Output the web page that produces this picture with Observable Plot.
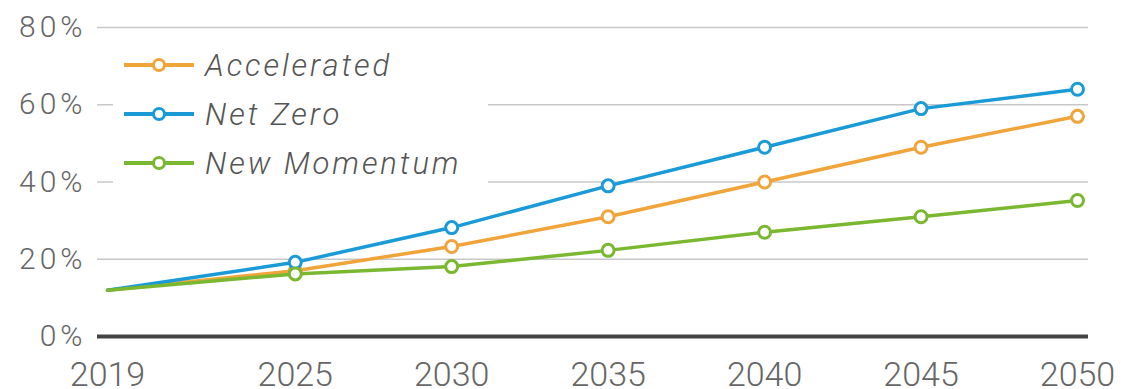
<!DOCTYPE html>
<html>
<head>
<meta charset="utf-8">
<script src="https://cdn.jsdelivr.net/npm/d3@7"></script>
<script src="https://cdn.jsdelivr.net/npm/@observablehq/plot@0.6"></script>
<style>
  body { margin: 0; background: #fff; }
  #wrap { position: relative; width: 1121px; height: 389px; overflow: hidden; }
  #legend { position: absolute; left: 113px; top: 40px; width: 375px; height: 162px; background: #fff;
    font-family: Roboto, "Liberation Sans", sans-serif; font-weight: 300; font-style: italic; font-size: 31px; letter-spacing: 2.9px; color: #555; }
  .row { position: absolute; left: 0; height: 40px; display: flex; align-items: center; white-space: nowrap; }
  .row svg { margin-left: 10px; margin-right: 10px; }
  #chart svg g[aria-label="y-axis tick label"] text { letter-spacing: 4px; }
</style>
</head>
<body>
<div id="wrap"><div id="chart"></div><div id="legend"></div></div>
<script>
const years = [2019, 2025, 2030, 2035, 2040, 2045, 2050];
const seriesNames = ["Accelerated", "Net Zero", "New Momentum"];
const accelerated = [12, 17, 23.3, 31, 40, 49, 57];
const netZero = [12, 19.2, 28.2, 39, 49, 59, 64];
const newMomentum = [12, 16.2, 18.1, 22.3, 27, 31, 35.2];
const colors = ["#F0A43A", "#1A9BD7", "#7AB831"];
const yTicks = [0, 20, 40, 60, 80];
const xTicks = [2019, 2025, 2030, 2035, 2040, 2045, 2050];

const seriesValues = [accelerated, netZero, newMomentum];
const data = [];
seriesNames.forEach((s, i) => years.forEach((yr, j) => data.push({series: s, year: yr, value: seriesValues[i][j]})));

const font = 'Roboto, "Liberation Sans", sans-serif';
const chart = Plot.plot({
  width: 1121,
  height: 389,
  marginLeft: 107,
  marginRight: 44,
  marginTop: 27,
  marginBottom: 53,
  style: { fontFamily: font, fontWeight: 300, color: "#666", background: "#fff", overflow: "visible" },
  x: { domain: [2019, 2050] },
  y: { domain: [0, 80] },
  color: { domain: seriesNames, range: colors },
  marks: [
    Plot.ruleY(yTicks.filter(d => d > 0), { stroke: "#c8c8c8", strokeWidth: 1.5, insetLeft: -10, insetRight: -11 }),
    Plot.ruleY([0], { stroke: "#444", strokeWidth: 4, insetLeft: -10, insetRight: -11 }),
    Plot.axisY({ ticks: yTicks, tickFormat: d => d + "%", tickSize: 0, tickPadding: 21, fontSize: 30, label: null, fill: "#666" }),
    Plot.axisX({ ticks: xTicks, tickFormat: d => String(d), tickSize: 0, tickPadding: 25, fontSize: 34, label: null, fill: "#666" }),
    Plot.line(data, { x: "year", y: "value", z: "series", stroke: "series", strokeWidth: 3.5 }),
    Plot.dot(data.filter(d => d.year !== 2019), { x: "year", y: "value", stroke: "series", fill: "#fff", r: 6, strokeWidth: 3 })
  ]
});
document.getElementById("chart").appendChild(chart);

const legend = document.getElementById("legend");
seriesNames.forEach((s, i) => {
  const row = document.createElement("div");
  row.className = "row";
  row.style.top = (5 + i * 49) + "px";
  row.innerHTML = `<svg width="72" height="16"><line x1="1" y1="8" x2="71" y2="8" stroke="${colors[i]}" stroke-width="4"/><circle cx="36" cy="8" r="5.5" fill="#fff" stroke="${colors[i]}" stroke-width="3"/></svg><span>${s}</span>`;
  legend.appendChild(row);
});
</script>
</body>
</html>
